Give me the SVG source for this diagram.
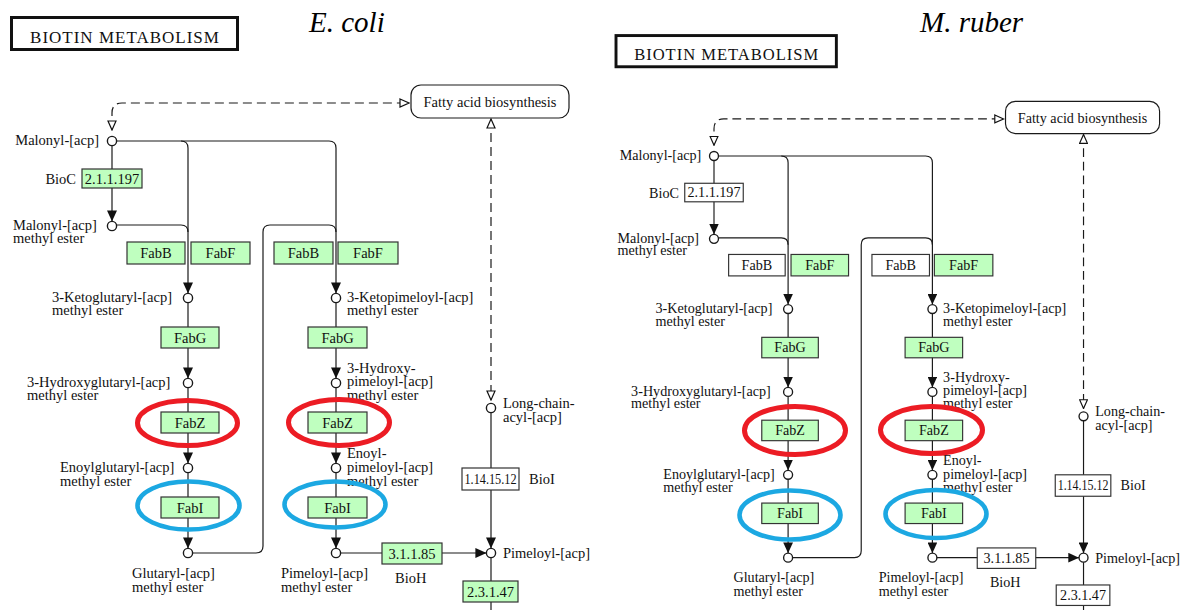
<svg xmlns="http://www.w3.org/2000/svg" width="1185" height="610" viewBox="0 0 1185 610">
<style>
.ln{stroke:#1a1a1a;stroke-width:1.2;fill:none}
.dash{stroke:#1a1a1a;stroke-width:1.2;fill:none;stroke-dasharray:9 5}
.cpd{fill:#fff;stroke:#1a1a1a;stroke-width:1.4}
.enz{fill:#bfffbf;stroke:#333;stroke-width:1.2}
.enzw{fill:#fff;stroke:#333;stroke-width:1.2}
.map{fill:#fff;stroke:#1a1a1a;stroke-width:1.2}
.title{fill:#fff;stroke:#111;stroke-width:3}
.t{font-family:"Liberation Serif","Times New Roman",serif;font-size:14.5px;fill:#111}
.tt{font-family:"Liberation Serif","Times New Roman",serif;font-size:17px;letter-spacing:1px;fill:#111;text-anchor:middle}
.sp{font-family:"Liberation Serif","Times New Roman",serif;font-size:29px;font-style:italic;fill:#000}
.c{text-anchor:middle}
.e{text-anchor:end}
.red{fill:none;stroke:#ec1c24;stroke-width:5}
.blue{fill:none;stroke:#1ca8e2;stroke-width:4.6}
</style>
<defs>
<marker id="arr" viewBox="0 0 11 10" refX="11" refY="5" markerWidth="11" markerHeight="10" markerUnits="userSpaceOnUse" orient="auto"><path d="M0,0 L11,5 L0,10 z" fill="#111"/></marker>
<marker id="oarr" viewBox="0 0 11 10" refX="10" refY="5" markerWidth="11" markerHeight="10" markerUnits="userSpaceOnUse" orient="auto-start-reverse"><path d="M1,1 L10,5 L1,9 z" fill="#fff" stroke="#111" stroke-width="1.2" stroke-dasharray="none"/></marker>
</defs>
<rect width="1185" height="610" fill="#fff"/>

<text class="sp" x="309" y="32">E. coli</text>
<text class="sp" x="920" y="32">M. ruber</text>

<!-- ================= E. coli panel ================= -->
<g id="ecoli">
<g id="ec-title"><rect class="title" x="11.5" y="17.5" width="226" height="32"/><text class="tt" x="125" y="43">BIOTIN METABOLISM</text></g>
<g id="ec-connectors">
<path class="dash" d="M112,130 L112,113 Q112,103 122,103 L409,103" marker-start="url(#oarr)" marker-end="url(#oarr)"/>
<path class="dash" d="M491,119 L491,400" marker-start="url(#oarr)" marker-end="url(#oarr)"/>
<path class="ln" d="M112,145.6 L112,221.4" marker-end="url(#arr)"/>
<path class="ln" d="M116.6,141 L329,141 Q336,141 336,148 L336,293.4" marker-end="url(#arr)"/>
<path class="ln" d="M181,141 Q188,141 188,148 L188,293.4" marker-end="url(#arr)"/>
<path class="ln" d="M116.6,225 L181,225 Q188,225 188,232"/>
<path class="ln" d="M188,302.6 L188,378.4" marker-end="url(#arr)"/>
<path class="ln" d="M188,387.6 L188,463.4" marker-end="url(#arr)"/>
<path class="ln" d="M188,472.6 L188,548.4" marker-end="url(#arr)"/>
<path class="ln" d="M192.6,553 L256,553 Q263,553 263,546 L263,232 Q263,225 270,225 L329,225 Q336,225 336,232"/>
<path class="ln" d="M336,302.6 L336,378.4" marker-end="url(#arr)"/>
<path class="ln" d="M336,387.6 L336,463.4" marker-end="url(#arr)"/>
<path class="ln" d="M336,472.6 L336,548.4" marker-end="url(#arr)"/>
<path class="ln" d="M340.6,553 L486.4,553" marker-end="url(#arr)"/>
<path class="ln" d="M491,412.6 L491,548.4" marker-end="url(#arr)"/>
<path class="ln" d="M491,557.6 L491,612"/>
</g>
<g id="ec-map-fab"><rect class="map" x="411" y="85" width="158" height="33" rx="10"/><text class="t c" x="490" y="107">Fatty acid biosynthesis</text></g>
<g id="ec-cpd-malonyl"><circle class="cpd" cx="112" cy="141" r="4.6"/><text class="t e" x="99" y="145">Malonyl-[acp]</text></g>
<g id="ec-cpd-malonylme"><circle class="cpd" cx="112" cy="226" r="4.6"/><text class="t" x="13" y="230">Malonyl-[acp]</text><text class="t" x="13" y="243">methyl ester</text></g>
<g id="ec-cpd-ketoglut"><circle class="cpd" cx="188" cy="298" r="4.6"/><text class="t" x="52" y="302">3-Ketoglutaryl-[acp]</text><text class="t" x="52" y="315">methyl ester</text></g>
<g id="ec-cpd-hydroxyglut"><circle class="cpd" cx="188" cy="383" r="4.6"/><text class="t" x="27" y="387">3-Hydroxyglutaryl-[acp]</text><text class="t" x="27" y="400">methyl ester</text></g>
<g id="ec-cpd-enoylglut"><circle class="cpd" cx="188" cy="468" r="4.6"/><text class="t" x="60" y="472">Enoylglutaryl-[acp]</text><text class="t" x="60" y="486">methyl ester</text></g>
<g id="ec-cpd-glutaryl"><circle class="cpd" cx="188" cy="553" r="4.6"/><text class="t" x="132" y="578">Glutaryl-[acp]</text><text class="t" x="132" y="592">methyl ester</text></g>
<g id="ec-cpd-ketopim"><circle class="cpd" cx="336" cy="298" r="4.6"/><text class="t" x="347" y="302">3-Ketopimeloyl-[acp]</text><text class="t" x="347" y="315">methyl ester</text></g>
<g id="ec-cpd-hydroxypim"><circle class="cpd" cx="336" cy="383" r="4.6"/><text class="t" x="347" y="373">3-Hydroxy-</text><text class="t" x="347" y="386">pimeloyl-[acp]</text><text class="t" x="347" y="400">methyl ester</text></g>
<g id="ec-cpd-enoylpim"><circle class="cpd" cx="336" cy="468" r="4.6"/><text class="t" x="347" y="458">Enoyl-</text><text class="t" x="347" y="472">pimeloyl-[acp]</text><text class="t" x="347" y="486">methyl ester</text></g>
<g id="ec-cpd-pimeloylme"><circle class="cpd" cx="336" cy="553" r="4.6"/><text class="t" x="281" y="578">Pimeloyl-[acp]</text><text class="t" x="281" y="592">methyl ester</text></g>
<g id="ec-cpd-pimeloyl"><circle class="cpd" cx="491" cy="553" r="4.6"/><text class="t" x="503" y="558">Pimeloyl-[acp]</text></g>
<g id="ec-cpd-longchain"><circle class="cpd" cx="491" cy="408" r="4.6"/><text class="t" x="503" y="408">Long-chain-</text><text class="t" x="503" y="422">acyl-[acp]</text></g>
<g id="ec-enz-bioc"><rect class="enz" x="82" y="169" width="60" height="19"/><text class="t c" x="112" y="183.5">2.1.1.197</text><text class="t e" x="76" y="184">BioC</text></g>
<g id="ec-enz-fabb1"><rect class="enz" x="127" y="242" width="58" height="22"/><text class="t c" x="156" y="258">FabB</text></g>
<g id="ec-enz-fabf1"><rect class="enz" x="191" y="242" width="59" height="22"/><text class="t c" x="220.5" y="258">FabF</text></g>
<g id="ec-enz-fabg1"><rect class="enz" x="161" y="327" width="58" height="21"/><text class="t c" x="190" y="342.5">FabG</text></g>
<g id="ec-enz-fabz1"><rect class="enz" x="161" y="412" width="58" height="21"/><text class="t c" x="190" y="427.5">FabZ</text></g>
<g id="ec-enz-fabi1"><rect class="enz" x="161" y="497" width="58" height="21"/><text class="t c" x="190" y="512.5">FabI</text></g>
<g id="ec-enz-fabb2"><rect class="enz" x="274" y="242" width="59" height="22"/><text class="t c" x="303.5" y="258">FabB</text></g>
<g id="ec-enz-fabf2"><rect class="enz" x="338" y="242" width="60" height="22"/><text class="t c" x="368" y="258">FabF</text></g>
<g id="ec-enz-fabg2"><rect class="enz" x="308" y="327" width="59" height="21"/><text class="t c" x="337.5" y="342.5">FabG</text></g>
<g id="ec-enz-fabz2"><rect class="enz" x="308" y="412" width="59" height="21"/><text class="t c" x="337.5" y="427.5">FabZ</text></g>
<g id="ec-enz-fabi2"><rect class="enz" x="308" y="497" width="59" height="21"/><text class="t c" x="337.5" y="512.5">FabI</text></g>
<g id="ec-enz-bioh"><rect class="enz" x="382" y="543" width="60" height="21"/><text class="t c" x="412" y="558.5">3.1.1.85</text><text class="t" x="395" y="583">BioH</text></g>
<g id="ec-enz-bioi"><rect class="enzw" x="462" y="468" width="57" height="22"/><text class="t c" x="490.5" y="484" textLength="52" lengthAdjust="spacingAndGlyphs">1.14.15.12</text><text class="t" x="529" y="484">BioI</text></g>
<g id="ec-enz-23147"><rect class="enz" x="463" y="581" width="55" height="21"/><text class="t c" x="490.5" y="596.5">2.3.1.47</text></g>
</g>

<!-- ================= M. ruber panel ================= -->
<g id="mruber" transform="translate(604.8,18.5) scale(0.975)">
<g id="mr-title"><rect class="title" x="11.5" y="17.5" width="226" height="32"/><text class="tt" x="125" y="43">BIOTIN METABOLISM</text></g>
<g id="mr-connectors">
<path class="dash" d="M112,130 L112,113 Q112,103 122,103 L409,103" marker-start="url(#oarr)" marker-end="url(#oarr)"/>
<path class="dash" d="M491,119 L491,400" marker-start="url(#oarr)" marker-end="url(#oarr)"/>
<path class="ln" d="M112,145.6 L112,221.4" marker-end="url(#arr)"/>
<path class="ln" d="M116.6,141 L329,141 Q336,141 336,148 L336,293.4" marker-end="url(#arr)"/>
<path class="ln" d="M181,141 Q188,141 188,148 L188,293.4" marker-end="url(#arr)"/>
<path class="ln" d="M116.6,225 L181,225 Q188,225 188,232"/>
<path class="ln" d="M188,302.6 L188,378.4" marker-end="url(#arr)"/>
<path class="ln" d="M188,387.6 L188,463.4" marker-end="url(#arr)"/>
<path class="ln" d="M188,472.6 L188,548.4" marker-end="url(#arr)"/>
<path class="ln" d="M192.6,553 L256,553 Q263,553 263,546 L263,232 Q263,225 270,225 L329,225 Q336,225 336,232"/>
<path class="ln" d="M336,302.6 L336,378.4" marker-end="url(#arr)"/>
<path class="ln" d="M336,387.6 L336,463.4" marker-end="url(#arr)"/>
<path class="ln" d="M336,472.6 L336,548.4" marker-end="url(#arr)"/>
<path class="ln" d="M340.6,553 L486.4,553" marker-end="url(#arr)"/>
<path class="ln" d="M491,412.6 L491,548.4" marker-end="url(#arr)"/>
<path class="ln" d="M491,557.6 L491,612"/>
</g>
<g id="mr-map-fab"><rect class="map" x="411" y="85" width="158" height="33" rx="10"/><text class="t c" x="490" y="107">Fatty acid biosynthesis</text></g>
<g id="mr-cpd-malonyl"><circle class="cpd" cx="112" cy="141" r="4.6"/><text class="t e" x="99" y="145">Malonyl-[acp]</text></g>
<g id="mr-cpd-malonylme"><circle class="cpd" cx="112" cy="226" r="4.6"/><text class="t" x="13" y="230">Malonyl-[acp]</text><text class="t" x="13" y="243">methyl ester</text></g>
<g id="mr-cpd-ketoglut"><circle class="cpd" cx="188" cy="298" r="4.6"/><text class="t" x="52" y="302">3-Ketoglutaryl-[acp]</text><text class="t" x="52" y="315">methyl ester</text></g>
<g id="mr-cpd-hydroxyglut"><circle class="cpd" cx="188" cy="383" r="4.6"/><text class="t" x="27" y="387">3-Hydroxyglutaryl-[acp]</text><text class="t" x="27" y="400">methyl ester</text></g>
<g id="mr-cpd-enoylglut"><circle class="cpd" cx="188" cy="468" r="4.6"/><text class="t" x="60" y="472">Enoylglutaryl-[acp]</text><text class="t" x="60" y="486">methyl ester</text></g>
<g id="mr-cpd-glutaryl"><circle class="cpd" cx="188" cy="553" r="4.6"/><text class="t" x="132" y="578">Glutaryl-[acp]</text><text class="t" x="132" y="592">methyl ester</text></g>
<g id="mr-cpd-ketopim"><circle class="cpd" cx="336" cy="298" r="4.6"/><text class="t" x="347" y="302">3-Ketopimeloyl-[acp]</text><text class="t" x="347" y="315">methyl ester</text></g>
<g id="mr-cpd-hydroxypim"><circle class="cpd" cx="336" cy="383" r="4.6"/><text class="t" x="347" y="373">3-Hydroxy-</text><text class="t" x="347" y="386">pimeloyl-[acp]</text><text class="t" x="347" y="400">methyl ester</text></g>
<g id="mr-cpd-enoylpim"><circle class="cpd" cx="336" cy="468" r="4.6"/><text class="t" x="347" y="458">Enoyl-</text><text class="t" x="347" y="472">pimeloyl-[acp]</text><text class="t" x="347" y="486">methyl ester</text></g>
<g id="mr-cpd-pimeloylme"><circle class="cpd" cx="336" cy="553" r="4.6"/><text class="t" x="281" y="578">Pimeloyl-[acp]</text><text class="t" x="281" y="592">methyl ester</text></g>
<g id="mr-cpd-pimeloyl"><circle class="cpd" cx="491" cy="553" r="4.6"/><text class="t" x="503" y="558">Pimeloyl-[acp]</text></g>
<g id="mr-cpd-longchain"><circle class="cpd" cx="491" cy="408" r="4.6"/><text class="t" x="503" y="408">Long-chain-</text><text class="t" x="503" y="422">acyl-[acp]</text></g>
<g id="mr-enz-bioc"><rect class="enzw" x="82" y="169" width="60" height="19"/><text class="t c" x="112" y="183.5">2.1.1.197</text><text class="t e" x="76" y="184">BioC</text></g>
<g id="mr-enz-fabb1"><rect class="enzw" x="127" y="242" width="58" height="22"/><text class="t c" x="156" y="258">FabB</text></g>
<g id="mr-enz-fabf1"><rect class="enz" x="191" y="242" width="59" height="22"/><text class="t c" x="220.5" y="258">FabF</text></g>
<g id="mr-enz-fabg1"><rect class="enz" x="161" y="327" width="58" height="21"/><text class="t c" x="190" y="342.5">FabG</text></g>
<g id="mr-enz-fabz1"><rect class="enz" x="161" y="412" width="58" height="21"/><text class="t c" x="190" y="427.5">FabZ</text></g>
<g id="mr-enz-fabi1"><rect class="enz" x="161" y="497" width="58" height="21"/><text class="t c" x="190" y="512.5">FabI</text></g>
<g id="mr-enz-fabb2"><rect class="enzw" x="274" y="242" width="59" height="22"/><text class="t c" x="303.5" y="258">FabB</text></g>
<g id="mr-enz-fabf2"><rect class="enz" x="338" y="242" width="60" height="22"/><text class="t c" x="368" y="258">FabF</text></g>
<g id="mr-enz-fabg2"><rect class="enz" x="308" y="327" width="59" height="21"/><text class="t c" x="337.5" y="342.5">FabG</text></g>
<g id="mr-enz-fabz2"><rect class="enz" x="308" y="412" width="59" height="21"/><text class="t c" x="337.5" y="427.5">FabZ</text></g>
<g id="mr-enz-fabi2"><rect class="enz" x="308" y="497" width="59" height="21"/><text class="t c" x="337.5" y="512.5">FabI</text></g>
<g id="mr-enz-bioh"><rect class="enzw" x="382" y="543" width="60" height="21"/><text class="t c" x="412" y="558.5">3.1.1.85</text><text class="t" x="395" y="583">BioH</text></g>
<g id="mr-enz-bioi"><rect class="enzw" x="462" y="468" width="57" height="22"/><text class="t c" x="490.5" y="484" textLength="52" lengthAdjust="spacingAndGlyphs">1.14.15.12</text><text class="t" x="529" y="484">BioI</text></g>
<g id="mr-enz-23147"><rect class="enzw" x="463" y="581" width="55" height="21"/><text class="t c" x="490.5" y="596.5">2.3.1.47</text></g>
</g>

<!-- highlight ellipses -->
<g id="highlights">
<ellipse class="red" cx="187.5" cy="423" rx="50" ry="22.5"/>
<ellipse class="red" cx="339" cy="422.5" rx="50.5" ry="23"/>
<ellipse class="blue" cx="188.5" cy="505.5" rx="51" ry="24"/>
<ellipse class="blue" cx="335" cy="504.5" rx="50.5" ry="23"/>
<ellipse class="red" cx="795" cy="430.5" rx="50.5" ry="24"/>
<ellipse class="red" cx="931.5" cy="430" rx="51" ry="23.5"/>
<ellipse class="blue" cx="790" cy="515" rx="50.5" ry="24.5"/>
<ellipse class="blue" cx="936" cy="514" rx="50.5" ry="24"/>
</g>
</svg>
